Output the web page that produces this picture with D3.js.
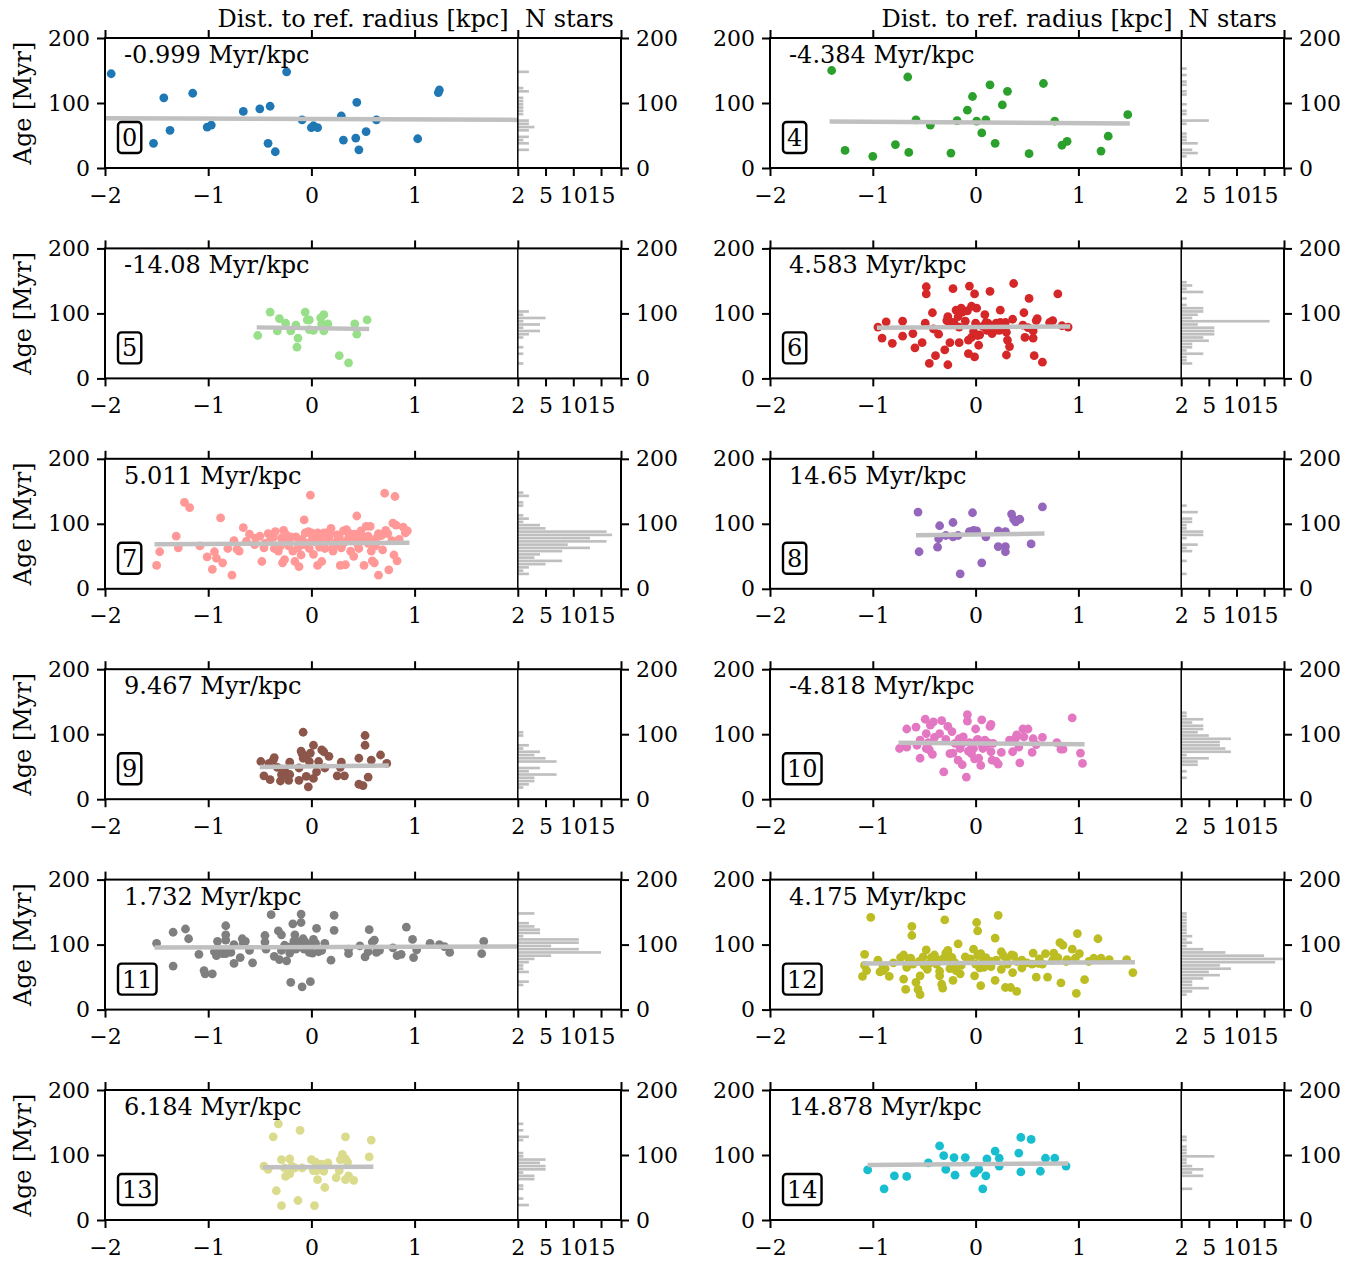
<!DOCTYPE html>
<html>
<head>
<meta charset="utf-8">
<script src="https://cdn.jsdelivr.net/npm/d3@7"></script>
<style>
  body { margin: 0; background: #fff; }
  text { font-family: "DejaVu Serif", serif; fill: #000; }
</style>
</head>
<body>
<svg id="chart" width="1362" height="1263"></svg>
<script>

// panel ids, slope labels and colours
var panelIds = [0, 4, 5, 6, 7, 8, 9, 10, 11, 12, 13, 14];
var slopeLabels = ["-0.999 Myr/kpc", "-4.384 Myr/kpc", "-14.08 Myr/kpc", "4.583 Myr/kpc",
                   "5.011 Myr/kpc", "14.65 Myr/kpc", "9.467 Myr/kpc", "-4.818 Myr/kpc",
                   "1.732 Myr/kpc", "4.175 Myr/kpc", "6.184 Myr/kpc", "14.878 Myr/kpc"];
var panelColors = ["#1f77b4", "#2ca02c", "#98df8a", "#d62728", "#ff9896", "#9467bd",
                   "#8c564b", "#e377c2", "#7f7f7f", "#bcbd22", "#dbdb8d", "#17becf"];

// fit line ends (dist) and (age)
var lineDist = [[-2, 2], [-1.42, 1.5], [-0.53, 0.56], [-0.96, 0.92], [-1.52, 0.95], [-0.58, 0.67],
                [-0.5, 0.75], [-0.75, 1.06], [-1.52, 2], [-1.1, 1.55], [-0.47, 0.6], [-1.05, 0.9]];
var lineAge = [[76.5, 74], [71.5, 68.5], [78.5, 76], [78, 80], [68.5, 71], [82.5, 85],
               [49.5, 52], [87, 84.5], [95.5, 97], [71, 73], [81, 82], [84.5, 87]];

// tick labels
var distTicks = [-2, -1, 0, 1, 2];
var ageTicks = [0, 100, 200];
var countTicks = [5, 10, 15];

// stars: distance to ref. radius [kpc] and age [Myr]
var dist0 = [-1.94,-1.43,-1.37,-1.53,-1.15,-1.01,-0.97,-0.66,-0.50,-0.40,-0.42,-0.35,-0.24,-0.09,0.00,0.02,0.06,0.29,0.31,0.44,0.43,0.46,0.53,0.63,1.03,1.23,1.24];
var age0  = [145,108,58,38,115,63,66,87,91,95,38,25,148,74,62,65,62,80,43,101,46,28,56,74,45,116,120];

var dist4 = [-1.40,-1.27,-1.00,-0.78,-0.66,-0.65,-0.58,-0.44,-0.24,-0.18,-0.08,-0.03,0.01,0.06,0.10,0.14,0.19,0.26,0.31,0.66,0.52,0.77,0.84,0.89,1.22,1.29,1.48];
var age4  = [150,27,18,36,140,24,74,66,23,73,89,110,72,54,74,128,38,97,118,130,22,72,35,41,26,49,82];

var dist5 = [-0.52,-0.40,-0.31,-0.33,-0.25,-0.20,-0.15,-0.13,-0.14,-0.06,-0.04,-0.02,-0.02,0.02,0.09,0.12,0.10,0.12,0.16,0.27,0.36,0.42,0.44,0.54];
var age5  = [66,102,92,73,85,73,82,62,48,102,90,90,75,74,93,98,84,73,84,35,24,84,68,90];

var dist6 = [-0.95,-0.87,-0.91,-0.81,-0.71,-0.71,-0.61,-0.59,-0.52,-0.49,-0.48,-0.48,-0.45,-0.42,-0.41,-0.39,-0.36,-0.30,-0.28,-0.27,
             -0.27,-0.25,-0.25,-0.22,-0.21,-0.19,-0.17,-0.16,-0.16,-0.14,-0.13,-0.10,-0.08,-0.07,-0.07,-0.06,-0.04,-0.04,-0.02,-0.01,
             -0.01,0.01,0.00,0.02,0.03,0.04,0.07,0.09,0.10,0.11,0.12,0.14,0.16,0.18,0.20,0.23,0.24,0.24,0.27,0.29,
             0.30,0.31,0.30,0.33,0.36,0.37,0.46,0.47,0.48,0.51,0.52,0.56,0.56,0.57,0.59,0.60,0.65,0.72,0.75,0.80,0.84,0.90];
var age6  = [79,87,62,54,88,65,69,47,55,85,141,130,23,101,76,35,68,44,89,21,
             95,87,55,138,86,105,95,79,55,108,102,88,104,59,38,142,63,111,72,33,
             130,108,85,66,51,67,80,98,86,74,85,134,69,73,85,74,105,86,79,86,
             71,59,36,49,91,146,82,101,63,78,123,62,73,35,89,92,25,86,89,130,81,79];

var dist7 = [-1.50,-1.47,-1.31,-1.29,-1.23,-1.18,-1.08,-1.01,-0.96,-0.94,-0.92,-0.88,-0.86,-0.81,-0.77,-0.75,-0.72,-0.70,-0.66,-0.63,
             -0.54,-0.50,-0.48,-0.46,-0.42,-0.40,-0.37,-0.36,-0.32,-0.29,-0.27,-0.26,-0.25,-0.28,-0.22,-0.20,-0.18,-0.16,-0.13,-0.12,
             -0.10,-0.09,-0.07,-0.06,-0.04,-0.03,-0.02,-0.01,0.00,0.01,0.02,0.04,0.06,0.06,0.08,0.10,0.12,0.13,0.15,0.17,
             0.19,0.21,0.24,0.25,0.28,0.29,0.31,0.33,0.34,0.36,0.38,0.41,0.43,0.44,0.46,0.48,0.49,0.51,0.53,0.55,
             0.57,0.58,0.59,0.61,0.63,0.65,0.65,0.69,0.71,0.74,0.75,0.78,0.79,0.80,0.81,0.82,0.83,0.89,0.91,0.93,
             -0.45,-0.38,-0.30,-0.22,-0.15,-0.08,0.00,0.05,0.12,0.18,0.22,0.27,0.32,0.38,0.45,0.52,0.60,0.68,
             -0.55,-0.35,-0.10,0.08,0.15,0.30,0.42,0.55,0.72,0.85,-0.60,-0.25,0.02,0.20,0.36,0.50,0.62];
var age7  = [36,57,81,63,133,125,66,49,30,57,47,109,40,62,21,74,61,58,94,73,
             78,81,42,63,85,74,79,62,58,78,90,45,84,40,66,80,58,42,63,34,
             52,76,106,86,70,88,62,144,86,78,53,72,86,36,81,42,86,62,74,79,
             93,58,72,83,36,63,89,37,91,78,58,50,76,112,62,89,81,36,96,81,
             96,58,43,40,78,85,21,60,147,85,29,74,101,52,142,98,43,95,86,89,
             70,82,66,74,80,68,84,76,70,88,66,80,72,84,68,78,72,82,
             68,88,72,64,86,68,84,70,90,76,84,76,80,62,86,74,66];

var dist8 = [-0.56,-0.55,-0.37,-0.36,-0.35,-0.29,-0.22,-0.22,-0.17,-0.15,-0.06,-0.03,-0.02,0.01,0.06,0.10,0.22,0.22,0.29,0.29,0.29,0.35,0.37,0.39,0.43,0.54,0.65];
var age8  = [118,57,64,77,97,82,102,80,82,23,88,117,90,89,40,80,89,65,65,57,88,115,107,103,107,69,126];

var dist9 = [-0.49,-0.46,-0.41,-0.40,-0.37,-0.36,-0.33,-0.30,-0.29,-0.26,-0.24,-0.22,-0.21,-0.21,-0.12,-0.12,-0.10,-0.09,-0.08,-0.08,
             -0.06,-0.05,-0.03,-0.02,-0.01,0.02,0.02,0.05,0.07,0.10,0.12,0.13,0.17,0.25,0.28,0.29,0.32,0.46,0.46,0.50,
             0.52,0.52,0.55,0.58,0.67,0.73];
var age9  = [58,36,55,30,60,64,49,28,38,44,36,29,38,57,48,29,74,70,103,63,
             66,35,19,58,71,32,83,42,58,76,73,48,66,36,49,57,36,63,23,21,
             98,83,34,60,68,55];

var dist10 = [-0.74,-0.71,-0.67,-0.67,-0.58,-0.57,-0.54,-0.54,-0.49,-0.48,-0.48,-0.46,-0.45,-0.44,-0.42,-0.41,-0.40,-0.35,-0.33,-0.31,
              -0.29,-0.27,-0.25,-0.23,-0.22,-0.20,-0.17,-0.16,-0.15,-0.13,-0.13,-0.12,-0.09,-0.08,-0.08,-0.07,-0.06,-0.04,-0.02,-0.01,
              0.00,0.01,0.02,0.03,0.05,0.06,0.06,0.07,0.09,0.10,0.12,0.14,0.15,0.15,0.16,0.17,0.20,0.22,0.25,0.33,
              0.36,0.39,0.40,0.42,0.43,0.46,0.47,0.51,0.55,0.56,0.59,0.65,0.79,0.83,0.85,0.94,1.02,1.04];
var age10  = [78,82,80,108,111,83,63,91,123,101,78,87,76,114,69,119,95,101,121,42,
              92,112,70,104,71,86,60,93,78,53,86,96,34,130,120,74,87,70,78,62,
              108,90,92,63,52,84,122,78,91,81,87,112,115,73,60,86,58,54,72,91,
              73,94,99,80,56,108,96,108,72,93,84,95,87,77,77,125,71,55];

var dist11 = [-1.50,-1.34,-1.34,-1.22,-1.19,-1.09,-1.04,-1.03,-0.96,-0.94,-0.92,-0.91,-0.89,-0.86,-0.83,-0.83,-0.83,-0.83,-0.81,-0.78,
              -0.75,-0.75,-0.69,-0.67,-0.66,-0.64,-0.60,-0.57,-0.45,-0.45,-0.44,-0.39,-0.36,-0.32,-0.31,-0.29,-0.29,-0.26,-0.24,-0.22,
              -0.21,-0.20,-0.18,-0.17,-0.16,-0.15,-0.12,-0.10,-0.10,-0.09,-0.08,-0.07,-0.06,-0.03,-0.02,-0.01,0.01,0.02,0.04,0.05,
              0.07,0.10,0.13,0.19,0.22,0.22,0.36,0.36,0.47,0.52,0.55,0.56,0.59,0.61,0.63,0.66,0.79,0.83,0.87,0.92,
              0.98,0.99,1.02,1.15,1.24,1.29,1.34,1.65,1.67];
var age11  = [102,119,67,124,109,85,60,55,55,89,83,105,91,86,129,115,107,86,91,88,
              71,100,80,109,102,105,91,72,114,104,93,146,82,121,77,91,115,99,75,96,
              87,42,132,105,115,93,104,134,147,35,109,93,104,99,88,43,87,108,102,125,
              89,91,102,76,122,145,86,93,98,81,89,123,104,107,88,91,95,83,85,127,
              108,80,92,102,100,97,88,86,105];

var dist12 = [-1.08,-1.10,-1.06,-1.08,-1.02,-0.93,-0.90,-0.88,-0.84,-0.73,-0.70,-0.68,-0.67,-0.63,-0.62,-0.62,-0.61,-0.58,-0.56,-0.54,
              -0.54,-0.51,-0.48,-0.47,-0.45,-0.43,-0.40,-0.38,-0.35,-0.35,-0.33,-0.32,-0.31,-0.30,-0.29,-0.27,-0.25,-0.23,-0.22,-0.19,
              -0.17,-0.15,-0.14,-0.10,-0.02,-0.01,0.01,0.02,0.02,0.04,0.05,0.07,0.08,0.12,0.15,0.19,0.19,0.22,0.25,0.25,
              0.27,0.29,0.31,0.34,0.36,0.37,0.40,0.45,0.56,0.59,0.61,0.68,0.70,0.76,0.82,0.83,0.85,0.89,0.94,0.97,
              0.98,0.99,1.01,1.06,1.15,1.19,1.22,1.30,1.47,1.53,
              -0.95,-0.80,-0.65,-0.55,-0.42,-0.30,-0.20,-0.05,0.10,0.20,0.30,0.40,0.50,0.62,0.75,0.88,
              -0.70,-0.50,-0.25,0.00,0.15,0.35,0.55,0.80,1.10,-0.90,-0.35,0.05,0.45,0.65];
var age12  = [85,51,60,68,142,58,60,63,51,80,47,31,65,79,128,114,70,42,31,23,
              52,81,92,62,71,80,84,70,59,52,39,33,79,138,87,91,63,80,45,60,
              101,55,68,81,93,52,134,121,83,64,37,73,65,75,74,110,45,145,89,62,
              83,34,70,34,57,83,28,76,87,50,71,86,50,87,103,41,99,77,93,79,
              25,117,86,46,79,109,79,77,77,57,
              76,72,78,74,80,76,72,78,80,76,78,74,72,78,76,74,
              84,68,82,70,66,84,70,80,74,66,76,86,64,70];

var dist13 = [-0.46,-0.42,-0.37,-0.34,-0.32,-0.29,-0.29,-0.26,-0.25,-0.21,-0.21,-0.19,-0.16,-0.13,-0.11,-0.09,0.00,0.02,0.03,0.04,
              0.05,0.06,0.10,0.12,0.13,0.16,0.24,0.27,0.28,0.30,0.33,0.33,0.33,0.35,0.36,0.41,0.56,0.58];
var age13  = [83,78,128,45,148,93,22,80,67,71,94,83,80,30,138,80,93,76,22,89,
              76,62,86,75,50,88,65,76,93,101,128,94,62,89,68,61,97,123];

var dist14 = [-1.05,-0.89,-0.79,-0.67,-0.46,-0.35,-0.31,-0.29,-0.21,-0.20,-0.10,-0.01,0.03,0.07,0.10,0.11,0.19,0.23,0.23,0.42,
              0.44,0.44,0.54,0.63,0.68,0.77,0.88];
var age14  = [77,48,68,67,88,114,99,78,96,69,96,72,78,48,68,94,106,95,83,103,
              127,74,124,75,95,95,83];

var distList = [dist0, dist4, dist5, dist6, dist7, dist8, dist9, dist10, dist11, dist12, dist13, dist14];
var ageList  = [age0, age4, age5, age6, age7, age8, age9, age10, age11, age12, age13, age14];


// layout
var cols = [{x0: 105, x3: 621}, {x0: 770, x3: 1284}],
    panelH = 130,
    rowTop = d3.range(6).map(function(r) { return 38 + r * 210.4; }),
    countMax = 18.6,
    binStep = 5,
    tickLen = 8,
    fontTick = 22,
    fontLabel = 24;

var svg = d3.select("#chart");

function styleAxis(g) {
    g.attr("font-family", null).attr("font-size", null);
    g.selectAll("text").style("font-size", fontTick + "px");
    g.selectAll("line").attr("stroke", "#000").attr("stroke-width", 2);
    g.select(".domain").remove();
}

panelIds.forEach(function(id, i) {

    var col = cols[i % 2],
        top = rowTop[Math.floor(i / 2)],
        bottom = top + panelH;

    var xScale = d3.scaleLinear().domain([-2, 3]).range([col.x0, col.x3]);
    var yScale = d3.scaleLinear().domain([0, 200]).range([bottom, top]);
    var hScale = d3.scaleLinear().domain([0, countMax]).range([xScale(2), xScale(3)]);

    var stars = distList[i].map(function(d, j) { return {dist: d, age: ageList[i][j]}; });

    var g = svg.append("g");

    // clip for the scatter part
    g.append("clipPath").attr("id", "clip" + id)
      .append("rect")
        .attr("x", xScale(-2)).attr("y", top)
        .attr("width", xScale(2) - xScale(-2)).attr("height", panelH);

    // histogram of ages
    var bins = d3.bin()
        .domain([0, 200])
        .thresholds(d3.range(0, 200, binStep))(stars.map(function(d) { return d.age; }));

    g.append("g").selectAll("rect")
        .data(bins.filter(function(b) { return b.length > 0; }))
        .enter().append("rect")
        .attr("x", hScale(0))
        .attr("y", function(b) { return yScale(b.x1); })
        .attr("width", function(b) { return Math.min(hScale(b.length), xScale(3)) - hScale(0); })
        .attr("height", function(b) { return yScale(b.x0) - yScale(b.x1) - 0.6; })
        .attr("fill", "#bfbfbf");

    // stars
    g.append("g").attr("clip-path", "url(#clip" + id + ")")
        .selectAll("circle")
        .data(stars)
        .enter().append("circle")
        .attr("cx", function(d) { return xScale(d.dist); })
        .attr("cy", function(d) { return yScale(d.age); })
        .attr("r", 4.4)
        .attr("fill", panelColors[i]);

    // fit line
    var fit = d3.line()
        .x(function(d) { return xScale(d[0]); })
        .y(function(d) { return yScale(d[1]); });
    g.append("path")
        .attr("clip-path", "url(#clip" + id + ")")
        .attr("d", fit([[lineDist[i][0], lineAge[i][0]], [lineDist[i][1], lineAge[i][1]]]))
        .attr("stroke", "#c0c0c0")
        .attr("stroke-width", 4.5)
        .attr("fill", "none");

    // axes
    var bottomAxis = d3.axisBottom(xScale)
        .tickValues(distTicks.concat([3]))
        .tickFormat(function(d) { return d === 3 ? "" : d3.format("d")(d); })
        .tickSize(tickLen).tickSizeOuter(0).tickPadding(11);
    g.append("g").attr("transform", "translate(0," + bottom + ")").call(bottomAxis).call(styleAxis);

    var countAxis = d3.axisBottom(hScale)
        .tickValues(countTicks)
        .tickSize(tickLen).tickSizeOuter(0).tickPadding(11);
    g.append("g").attr("transform", "translate(0," + bottom + ")").call(countAxis).call(styleAxis);

    var topAxis = d3.axisTop(xScale)
        .tickValues(distTicks.concat([3]))
        .tickFormat("")
        .tickSize(tickLen).tickSizeOuter(0);
    g.append("g").attr("transform", "translate(0," + top + ")").call(topAxis).call(styleAxis);

    var leftAxis = d3.axisLeft(yScale)
        .tickValues(ageTicks)
        .tickSize(tickLen).tickSizeOuter(0).tickPadding(7);
    g.append("g").attr("transform", "translate(" + col.x0 + ",0)").call(leftAxis).call(styleAxis);

    var rightAxis = d3.axisRight(yScale)
        .tickValues(ageTicks)
        .tickSize(tickLen).tickSizeOuter(0).tickPadding(7);
    g.append("g").attr("transform", "translate(" + col.x3 + ",0)").call(rightAxis).call(styleAxis);

    // frame and divider
    g.append("rect")
        .attr("x", col.x0).attr("y", top)
        .attr("width", col.x3 - col.x0).attr("height", panelH)
        .attr("fill", "none").attr("stroke", "#000").attr("stroke-width", 2);
    g.append("line")
        .attr("x1", xScale(2)).attr("x2", xScale(2))
        .attr("y1", top).attr("y2", bottom)
        .attr("stroke", "#000").attr("stroke-width", 1.5);

    // slope annotation
    g.append("text")
        .attr("x", col.x0 + 19)
        .attr("y", top + 25)
        .style("font-size", fontLabel + "px")
        .text(slopeLabels[i]);

    // panel number box
    var numText = g.append("text")
        .attr("x", col.x0 + 17)
        .attr("y", top + 100)
        .attr("dominant-baseline", "central")
        .style("font-size", fontLabel + "px")
        .text(id);
    var bb = numText.node().getBBox();
    g.append("rect")
        .attr("x", bb.x - 4).attr("y", top + 84)
        .attr("width", bb.width + 8).attr("height", 31)
        .attr("rx", 3.5)
        .attr("fill", "#fff").attr("stroke", "#000").attr("stroke-width", 2.4);
    numText.raise();

    // axis labels
    if (i % 2 === 0) {
        g.append("text")
            .attr("transform", "translate(31," + (top + panelH / 2) + ") rotate(-90)")
            .attr("text-anchor", "middle")
            .style("font-size", fontLabel + "px")
            .text("Age [Myr]");
    }
    if (i < 2) {
        g.append("text")
            .attr("x", (col.x0 + col.x3) / 2)
            .attr("y", top - 11)
            .attr("text-anchor", "middle")
            .style("font-size", fontLabel + "px")
            .text("Dist. to ref. radius [kpc]");
        g.append("text")
            .attr("x", (xScale(2) + col.x3) / 2)
            .attr("y", top - 11)
            .attr("text-anchor", "middle")
            .style("font-size", fontLabel + "px")
            .text("N stars");
    }
});

</script>
</body>
</html>
